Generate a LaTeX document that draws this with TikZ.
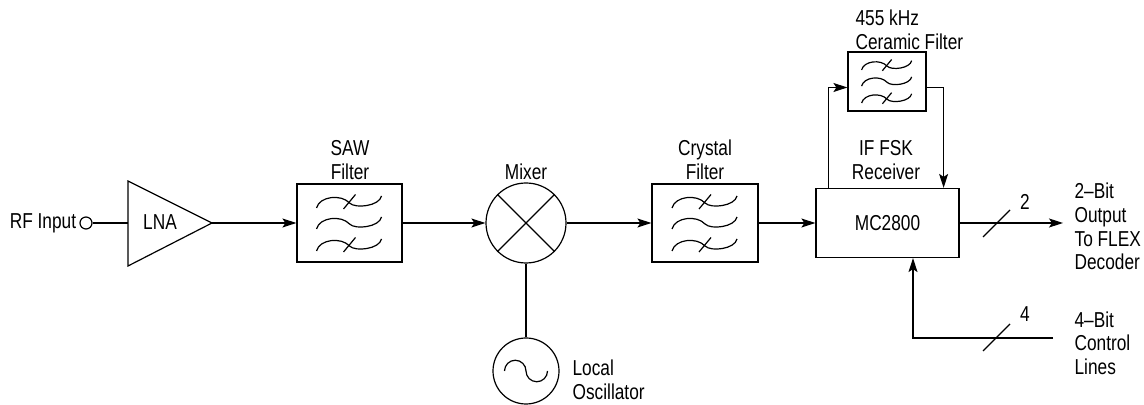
\documentclass[tikz,border=0pt]{standalone}
\usepackage{fontspec}
\setmainfont{Liberation Sans}[FakeStretch=0.8]
\usepackage{tikz}
\usetikzlibrary{arrows.meta}

\tikzset{
	blk/.style={draw, inner sep=0pt},
	lbl/.style={align=center, inner sep=0pt},
	filtsym/.pic={
		\foreach \dy in {21,0,-22}
		\draw[shift={(0,\dy)}] (-33,-6) .. controls (-30,6) and (-8,8) .. (0,-1) .. controls (6,-7) and (30,-4) .. (32,6);
		\foreach \dy in {21,-22}
		\draw[shift={(0,\dy)}] (-6,-7) -- (6,7.5);
	}
}

\begin{document}
\begin{tikzpicture}[x=0.5pt, y=0.5pt, line width=0.6pt,
	>={Stealth[length=7pt,width=4.5pt,inset=1.5pt]},
	font=\fontsize{10.8}{11.8}\selectfont]
	\useasboundingbox (0,0) rectangle (1144,405);
	
	% input and LNA
	\node[circle, draw, minimum size=6pt, inner sep=0pt,
	label={[label distance=-2pt]left:RF Input}] (rfin) at (86,182) {};
	\coordinate (lnain) at (128,182);
	\coordinate (lnaout) at (212,182);
	\draw (128,224) -- (lnaout) -- (128,139) -- cycle;
	\node[lbl] (lna) at (160,183) {LNA};
	
	% SAW filter
	\node[blk, minimum width=52.5pt, minimum height=39pt] (saw) at (349.5,182) {};
	\pic at (saw) {filtsym};
	\node[lbl] (sawlbl) at (350,245) {SAW\\Filter};
	
	% mixer and oscillator
	\node[circle, draw, minimum size=40pt, inner sep=0pt] (mix) at (526,182) {};
	\draw (mix.north west) -- (mix.south east) (mix.north east) -- (mix.south west);
	\node[lbl] (mixlbl) at (526,233) {Mixer};
	\node[circle, draw, minimum size=33pt, inner sep=0pt] (osc) at (526,34) {};
	\draw ([xshift=-10.75pt]osc.center) arc (180:0:5.375pt) arc (180:360:5.375pt);
	\node[lbl, anchor=west, align=left] (osclbl) at (572,25) {Local\\Oscillator};
	
	% crystal filter
	\node[blk, minimum width=53pt, minimum height=39pt] (xtal) at (705,182) {};
	\pic at (xtal) {filtsym};
	\node[lbl] (xtallbl) at (705,245) {Crystal\\Filter};
	
	% receiver and ceramic filter
	\node[blk, minimum width=71.5pt, minimum height=34.5pt] (ic) at (887.5,182) {MC2800};
	\node[lbl] (iclbl) at (886,245) {IF FSK\\Receiver};
	\node[blk, minimum width=39pt, minimum height=29.5pt] (cer) at (887,323.5) {};
	\pic[scale=0.77] at (cer) {filtsym};
	\node[lbl, anchor=west, align=left] (cerlbl) at (855,375) {455 kHz\\Ceramic Filter};
	
	% outputs
	\coordinate (out) at (1063,182);
	\coordinate (ctl) at (1053,67);
	\node[lbl] (outn) at (1025,203) {2};
	\node[lbl] (ctln) at (1025,91) {4};
	\node[lbl, anchor=west, align=left] (outlbl) at (1074,178.5) {2--Bit\\Output\\To FLEX\\Decoder};
	\node[lbl, anchor=west, align=left] (ctllbl) at (1074,62) {4--Bit\\Control\\Lines};
	
	\draw (rfin) -- (lnain);
	\draw[->] (lnaout) -- (saw);
	\draw[->] (saw) -- (mix);
	\draw[->] (mix) -- (xtal);
	\draw[->] (xtal) -- (ic);
	\draw (mix) -- (osc);
	\draw[->] ([xshift=6.5pt]ic.north west) |- ([yshift=-3pt]cer.west);
	\draw[->] ([yshift=-3pt]cer.east) -| ([xshift=-8pt]ic.north east);
	\draw[->] (ic.east) -- (out);
	\draw (983,168) -- (1010,195);
	\draw[->] (ctl) -| ([xshift=12.75pt]ic.south);
	\draw (983,54) -- (1010,81);
\end{tikzpicture}
\end{document}
